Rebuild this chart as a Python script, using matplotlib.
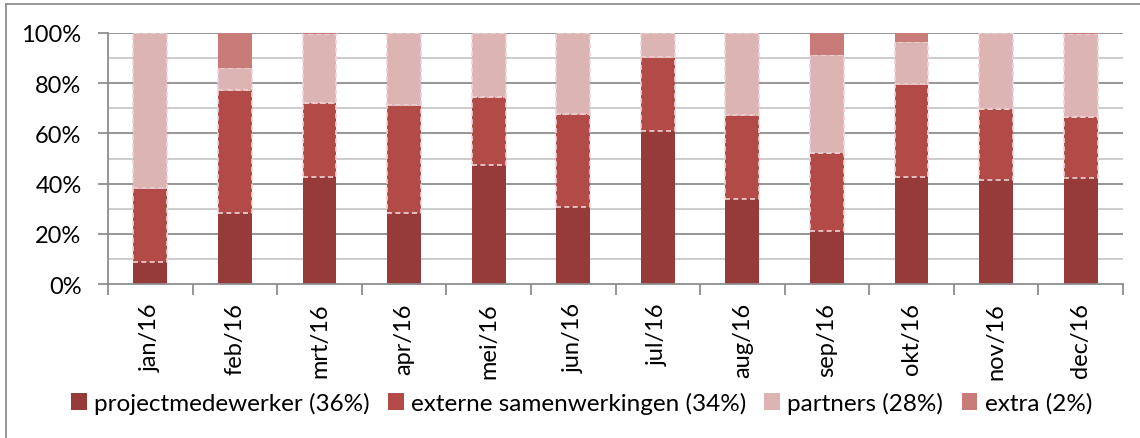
import matplotlib
matplotlib.use("Agg")
import matplotlib.pyplot as plt
from matplotlib.lines import Line2D
from matplotlib.patches import Patch
import numpy as np

months = ["jan/16", "feb/16", "mrt/16", "apr/16", "mei/16", "jun/16",
          "jul/16", "aug/16", "sep/16", "okt/16", "nov/16", "dec/16"]
project = [8.9, 28.1, 42.6, 28.1, 47.3, 30.5, 60.8, 33.9, 21.1, 42.6, 41.4, 42.2]
externe = [29.5, 49.0, 29.7, 43.3, 27.4, 37.3, 29.5, 33.4, 30.9, 36.9, 28.5, 24.2]
partners = [61.6, 9.1, 27.2, 28.6, 25.2, 32.2, 9.7, 32.7, 39.1, 16.9, 30.1, 33.4]
extra = [0.0, 13.8, 0.5, 0.0, 0.1, 0.0, 0.0, 0.0, 8.9, 3.6, 0.0, 0.2]
labels = ["projectmedewerker (36%)", "externe samenwerkingen (34%)",
          "partners (28%)", "extra (2%)"]
colors = ["#963A3A", "#B24A47", "#DDB4B4", "#C97B7A"]
edge = "#EDD3D3"

plt.rcParams['font.family'] = ['Lato', 'DejaVu Sans']
FS = 17

fig = plt.figure(figsize=(11.4, 4.39), dpi=100)
ax = fig.add_axes([108/1140, 1-285/439, (1123-108)/1140, (285-34)/439])

x = np.arange(len(months))
w = 0.4
p = np.array(project); e = np.array(externe); pa = np.array(partners); ex = np.array(extra)
ax.bar(x, p, w, color=colors[0], linewidth=0, zorder=3)
ax.bar(x, e, w, bottom=p, color=colors[1], edgecolor=edge, linewidth=1.2,
       linestyle=(0, (3, 2)), zorder=3)
ax.bar(x, pa, w, bottom=p+e, color=colors[2], edgecolor=edge, linewidth=1.2,
       linestyle=(0, (3, 2)), zorder=3)
ax.bar(x, ex, w, bottom=p+e+pa, color=colors[3], linewidth=0, zorder=3)

ax.set_xlim(-0.5, len(months)-0.5)
ax.set_ylim(0, 100)
for v in range(10, 100, 20):
    ax.axhline(v, color="#C8C8C8", linewidth=1.3, zorder=1)
for v in range(20, 101, 20):
    ax.axhline(v, color="#8E8E8E", linewidth=1.3, zorder=1)

ax.set_yticks(range(0, 101, 20))
ax.set_yticklabels([f"{v}%" for v in range(0, 101, 20)], fontsize=FS)
ax.set_xticks(x)
ax.set_xticklabels(months, rotation=90, fontsize=FS)
ax.set_xticks(np.arange(-0.5, len(months), 1), minor=True)
ax.tick_params(axis='x', which='major', length=0, pad=13)
ax.tick_params(axis='x', which='minor', length=8, width=1.3, color="#8E8E8E")
ax.tick_params(axis='y', which='major', length=7, width=1.3, color="#8E8E8E", pad=12)
for s in ["top", "right"]:
    ax.spines[s].set_visible(False)
for s in ["left", "bottom"]:
    ax.spines[s].set_color("#8E8E8E")
    ax.spines[s].set_linewidth(1.3)
    ax.spines[s].set_zorder(4)

handles = [Patch(facecolor=c, edgecolor='none') for c in colors]
fig.legend(handles, labels, loc="center", bbox_to_anchor=(0.51, 1-404/439),
           ncol=4, frameon=False, fontsize=17.5, handlelength=0.65, handleheight=0.65,
           handletextpad=0.3, columnspacing=0.75)

fig.add_artist(Line2D([5.5/1140, 5.5/1140], [0, 1-4.5/439], transform=fig.transFigure,
                      color="#8E8E8E", linewidth=1.3))
fig.add_artist(Line2D([5.5/1140, 1], [1-4.5/439, 1-4.5/439], transform=fig.transFigure,
                      color="#8E8E8E", linewidth=1.3))

fig.savefig("out.png", dpi=100)
